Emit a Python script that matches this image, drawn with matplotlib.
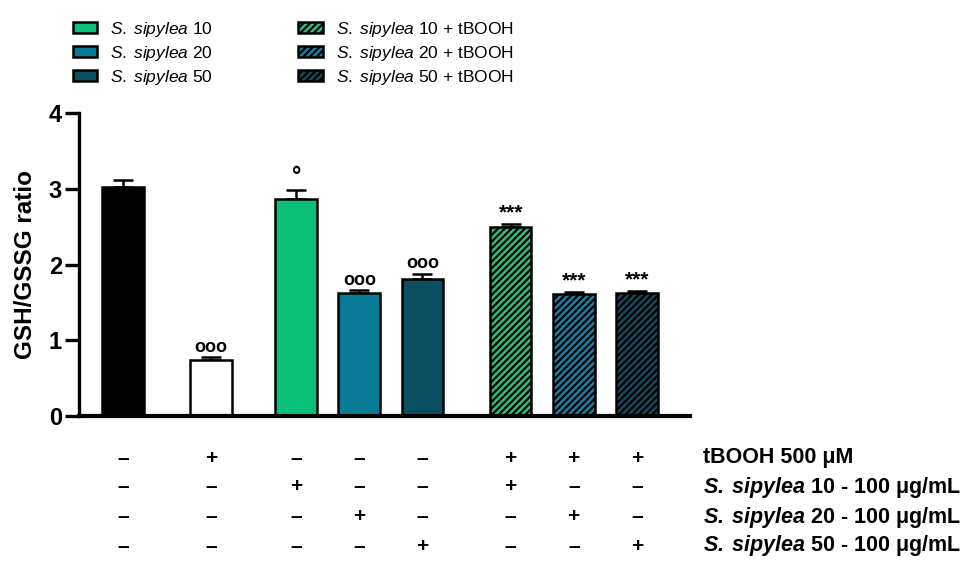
import matplotlib
matplotlib.use("Agg")
import matplotlib.pyplot as plt
import matplotlib.transforms as mtransforms
from matplotlib import font_manager
from matplotlib.patches import Patch

# fonts: narrow arial-like if available
names = {f.name for f in font_manager.fontManager.ttflist}
fam = "Liberation Sans Narrow" if "Liberation Sans Narrow" in names else "Liberation Sans"
plt.rcParams["font.family"] = [fam, "DejaVu Sans"]
plt.rcParams["mathtext.fontset"] = "custom"
plt.rcParams["mathtext.it"] = fam + ":italic"
plt.rcParams["mathtext.rm"] = fam
plt.rcParams["mathtext.bf"] = fam + ":italic:bold"
plt.rcParams["hatch.linewidth"] = 1.6

# data
groups = ["CTRL", "tBOOH", "S10", "S20", "S50", "S10+tBOOH", "S20+tBOOH", "S50+tBOOH"]
means = [3.02, 0.74, 2.87, 1.62, 1.81, 2.50, 1.61, 1.62]
errs = [0.09, 0.04, 0.11, 0.04, 0.07, 0.04, 0.03, 0.03]
marks = ["", "ooo", "o", "ooo", "ooo", "***", "***", "***"]
colors = ["#000000", "#ffffff", "#0bbf78", "#087c96", "#0a4f5f", "#2fbf78", "#1a80a3", "#164a5b"]
hatches = [None, None, None, None, None, "/////", "/////", "/////"]
xpos = [0, 1.4, 2.75, 3.75, 4.75, 6.15, 7.15, 8.15]

row_labels = [r"tBOOH 500 μM",
              r"$\mathbf{S.\;sipylea}$ 10 - 100 μg/mL",
              r"$\mathbf{S.\;sipylea}$ 20 - 100 μg/mL",
              r"$\mathbf{S.\;sipylea}$ 50 - 100 μg/mL"]
signs = [["–", "+", "–", "–", "–", "+", "+", "+"],
         ["–", "–", "+", "–", "–", "+", "–", "–"],
         ["–", "–", "–", "+", "–", "–", "+", "–"],
         ["–", "–", "–", "–", "+", "–", "–", "+"]]

legend_labels = [r"$\mathit{S.\;sipylea}$ 10", r"$\mathit{S.\;sipylea}$ 20",
                 r"$\mathit{S.\;sipylea}$ 50",
                 r"$\mathit{S.\;sipylea}$ 10 + tBOOH", r"$\mathit{S.\;sipylea}$ 20 + tBOOH",
                 r"$\mathit{S.\;sipylea}$ 50 + tBOOH"]

fig = plt.figure(figsize=(9.71, 5.67), dpi=100)
ax = fig.add_axes([0.081, 0.266, 0.630, 0.535])

for i in range(len(means)):
    ax.bar(xpos[i], means[i], width=0.66, color=colors[i], edgecolor="black",
           linewidth=1.8, hatch=hatches[i], zorder=2)
    ax.errorbar(xpos[i], means[i], yerr=[[0], [errs[i]]], color="black",
                capsize=7, capthick=1.8, elinewidth=1.8, zorder=1)
    if marks[i] == "o":
        ax.text(xpos[i], means[i] + errs[i] + 0.03, "°", ha="center", va="bottom",
                fontsize=17, fontweight="bold")
    elif marks[i]:
        ax.text(xpos[i], means[i] + errs[i] + 0.02, marks[i], ha="center", va="bottom",
                fontsize=13 if marks[i] == "ooo" else 15, fontweight="bold")

ax.set_xlim(-0.7, 9.0)
ax.set_ylim(0, 4)
ax.set_yticks([0, 1, 2, 3, 4])
ax.set_xticks([])
ax.spines["top"].set_visible(False)
ax.spines["right"].set_visible(False)
ax.spines["left"].set_linewidth(2.4)
ax.spines["bottom"].set_linewidth(3)
ax.tick_params(axis="y", length=10, width=2.4, labelsize=17, pad=2)
for t in ax.get_yticklabels():
    t.set_fontweight("bold")
ax.set_ylabel("GSH/GSSG ratio", fontsize=17.5, fontweight="bold")
ax.yaxis.set_label_coords(-0.068, 0.5)

# treatment table under the axis
row_y = [458, 487, 517, 546]
tr = mtransforms.blended_transform_factory(ax.transData, fig.transFigure)
for r in range(4):
    yf = 1 - row_y[r] / 567
    for i in range(len(xpos)):
        ax.text(xpos[i], yf, signs[r][i], transform=tr,
                ha="center", va="center", fontsize=15, fontweight="bold")
    fig.text(703 / 971, yf, row_labels[r], ha="left", va="center", fontsize=15.5, fontweight="bold")

handles = [Patch(facecolor=colors[i], edgecolor="black", linewidth=1.8, hatch=hatches[i])
           for i in [2, 3, 4, 5, 6, 7]]
fig.legend(handles, legend_labels, ncol=2, loc="upper left", bbox_to_anchor=(73 / 971, 1 - 20 / 567),
           frameon=False, fontsize=12.5, handlelength=1.4, handleheight=0.58, borderpad=0,
           borderaxespad=0, handletextpad=0.75, columnspacing=4.9, labelspacing=0.28)

fig.savefig("out.png", dpi=100)
